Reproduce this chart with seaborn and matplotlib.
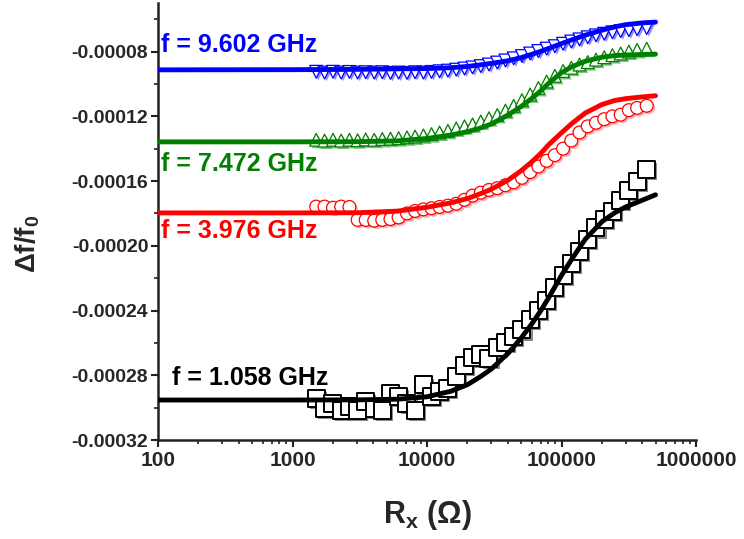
import seaborn as sns
import matplotlib
matplotlib.use('Agg')
import matplotlib.pyplot as plt
import matplotlib.patheffects as pe
from matplotlib.ticker import FuncFormatter, FixedLocator, LogLocator, NullFormatter, MultipleLocator

# measured points (resistance sweep), same R for every frequency
R_meas = [1500, 1730, 2000, 2300, 2650, 3050, 3500, 4050, 4650, 5350, 6150, 7100,
          8150, 9400, 10800, 12400, 14300, 16500, 19000, 21800, 25100, 28900, 33300,
          38300, 44100, 50800, 58500, 67300, 77500, 89200, 102700, 118200, 136100,
          156700, 180400, 207700, 239100, 275300, 316900, 364800, 430000]

blue_data = [-0.0000925, -0.0000930, -0.0000925, -0.0000930, -0.0000926, -0.0000930,
             -0.0000928, -0.0000930, -0.0000928, -0.0000932, -0.0000930, -0.0000932,
             -0.0000928, -0.0000930, -0.0000926, -0.0000922, -0.0000918, -0.0000912,
             -0.0000905, -0.0000898, -0.0000890, -0.0000880, -0.0000868, -0.0000855,
             -0.0000842, -0.0000828, -0.0000812, -0.0000797, -0.0000782, -0.0000767,
             -0.0000752, -0.0000738, -0.0000725, -0.0000712, -0.0000700, -0.0000690,
             -0.0000681, -0.0000674, -0.0000668, -0.0000662, -0.0000655]

green_data = [-0.0001345, -0.0001350, -0.0001345, -0.0001350, -0.0001345, -0.0001348,
              -0.0001343, -0.0001345, -0.0001340, -0.0001338, -0.0001335, -0.0001330,
              -0.0001325, -0.0001318, -0.0001310, -0.0001300, -0.0001290, -0.0001275,
              -0.0001262, -0.0001250, -0.0001232, -0.0001212, -0.0001192, -0.0001165,
              -0.0001135, -0.0001100, -0.0001065, -0.0001025, -0.0000985, -0.0000950,
              -0.0000920, -0.0000900, -0.0000880, -0.0000865, -0.0000850, -0.0000835,
              -0.0000822, -0.0000812, -0.0000800, -0.0000790, -0.0000782]

red_data = [-0.0001758, -0.0001758, -0.0001765, -0.0001758, -0.0001760, -0.0001840,
            -0.0001840, -0.0001845, -0.0001840, -0.0001835, -0.0001825, -0.0001800,
            -0.0001785, -0.0001775, -0.0001768, -0.0001760, -0.0001752, -0.0001740,
            -0.0001716, -0.0001690, -0.0001672, -0.0001655, -0.0001644, -0.0001626,
            -0.0001608, -0.0001580, -0.0001545, -0.0001510, -0.0001475, -0.0001440,
            -0.0001400, -0.0001350, -0.0001300, -0.0001262, -0.0001240, -0.0001218,
            -0.0001200, -0.0001190, -0.0001162, -0.0001148, -0.0001135]

black_data = [-0.0002942, -0.0003004, -0.0002975, -0.0003015, -0.0002990, -0.0003015,
              -0.0002963, -0.0003004, -0.0003015, -0.0002911, -0.0002932, -0.0002973,
              -0.0003015, -0.0002860, -0.0002932, -0.0002900, -0.0002880, -0.0002810,
              -0.0002740, -0.0002690, -0.0002674, -0.0002695, -0.0002630, -0.0002600,
              -0.0002560, -0.0002520, -0.0002458, -0.0002400, -0.0002340, -0.0002260,
              -0.0002185, -0.0002110, -0.0002035, -0.0001960, -0.0001890, -0.0001840,
              -0.0001790, -0.0001720, -0.0001660, -0.0001600, -0.0001531]

# fitted curves
R_fit = [100, 1000, 3000, 6000, 10000, 15000, 20000, 25000, 30000, 40000, 50000,
         60000, 70000, 80000, 100000, 120000, 150000, 200000, 250000, 300000, 400000, 500000]

blue_fit = [-0.0000913, -0.0000912, -0.0000910, -0.0000907, -0.0000905, -0.0000900,
            -0.0000892, -0.0000882, -0.0000873, -0.0000857, -0.0000838, -0.0000817,
            -0.0000799, -0.0000781, -0.0000751, -0.0000727, -0.0000699, -0.0000668,
            -0.0000647, -0.0000634, -0.0000623, -0.0000618]

green_fit = [-0.0001358, -0.0001358, -0.0001357, -0.0001352, -0.0001337, -0.0001316,
             -0.0001295, -0.0001272, -0.0001248, -0.0001192, -0.0001140, -0.0001090,
             -0.0001043, -0.0000997, -0.0000930, -0.0000893, -0.0000860, -0.0000835,
             -0.0000825, -0.0000821, -0.0000818, -0.0000816]

red_fit = [-0.0001797, -0.0001797, -0.0001796, -0.0001786, -0.0001762, -0.0001735,
           -0.0001708, -0.0001678, -0.0001651, -0.0001595, -0.0001537, -0.0001482,
           -0.0001430, -0.0001377, -0.0001302, -0.0001243, -0.0001180, -0.0001127,
           -0.0001102, -0.0001091, -0.0001080, -0.0001073]

black_fit = [-0.0002953, -0.0002953, -0.0002952, -0.0002948, -0.0002933, -0.0002899,
             -0.0002858, -0.0002808, -0.0002762, -0.0002665, -0.0002571, -0.0002484,
             -0.0002402, -0.0002323, -0.0002183, -0.0002079, -0.0001960, -0.0001851,
             -0.0001795, -0.0001760, -0.0001718, -0.0001685]

labels = ['f = 9.602 GHz', 'f = 7.472 GHz', 'f = 3.976 GHz', 'f = 1.058 GHz']

sns.set_style('ticks')
plt.rcParams['font.family'] = ['Liberation Sans', 'DejaVu Sans']
plt.rcParams['font.weight'] = 'bold'
plt.rcParams['axes.unicode_minus'] = False
plt.rcParams['mathtext.fontset'] = 'custom'
plt.rcParams['mathtext.rm'] = 'Liberation Sans:bold'
plt.rcParams['mathtext.it'] = 'Liberation Sans:bold'
plt.rcParams['mathtext.bf'] = 'Liberation Sans:bold'

fig = plt.figure(figsize=(7.44, 5.39), dpi=100)
fig.subplots_adjust(left=158/744, right=696/744, bottom=1-440/539, top=1-3/539)
ax = fig.add_subplot(111)

series = [
    (blue_data, blue_fit, 'blue', '#8c8cff', 'v', 85),
    (green_data, green_fit, 'green', '#7fbf7f', '^', 85),
    (red_data, red_fit, 'red', '#ffb0b0', 'o', 85),
    (black_data, black_fit, 'black', '#8a8a8a', 's', 150),
]

for data, fit, col, shadow, mk, size in series:
    sns.scatterplot(x=R_meas, y=data, marker=mk, s=size, color='white',
                    edgecolor=col, linewidth=1.4 if col == 'black' else 0.9,
                    ax=ax, zorder=2)
    ax.collections[-1].set_path_effects([
        pe.SimplePatchShadow(offset=(1.5, -1.5), shadow_rgbFace=shadow, alpha=1.0),
        pe.Normal()])
    sns.lineplot(x=R_fit, y=fit, color=col, lw=3.5, ax=ax, zorder=3)

# curve labels
ax.text(105, -0.0000801, labels[0], color='blue', fontsize=18, fontweight='bold')
ax.text(106, -0.0001537, labels[1], color='green', fontsize=18, fontweight='bold')
ax.text(106, -0.0001951, labels[2], color='red', fontsize=18, fontweight='bold')
ax.text(127, -0.000286, labels[3], color='black', fontsize=18, fontweight='bold')

ax.set_xscale('log')
ax.set_xlim(100, 1e6)
ax.set_ylim(-0.00032, -0.00005)

ax.xaxis.set_major_locator(FixedLocator([100, 1000, 10000, 100000, 1000000]))
ax.xaxis.set_major_formatter(FuncFormatter(lambda v, p: f'{int(round(v))}'))
ax.xaxis.set_minor_locator(LogLocator(base=10, subs=range(2, 10), numticks=20))
ax.xaxis.set_minor_formatter(NullFormatter())

ax.yaxis.set_major_locator(FixedLocator([-0.00032, -0.00028, -0.00024, -0.0002,
                                         -0.00016, -0.00012, -0.00008]))
ax.yaxis.set_major_formatter(FuncFormatter(lambda v, p: f'{v:.5f}'))
ax.yaxis.set_minor_locator(MultipleLocator(0.00002))

ax.tick_params(axis='both', which='major', direction='out', length=5, width=1.5,
               labelsize=14, pad=2, color='#222222')
ax.tick_params(axis='both', which='minor', direction='out', length=3, width=1.2,
               color='#222222')
ax.tick_params(axis='x', labelsize=15, pad=3)
for lab in ax.get_xticklabels() + ax.get_yticklabels():
    lab.set_fontweight('bold')

sns.despine(ax=ax)
for s in ['left', 'bottom']:
    ax.spines[s].set_linewidth(1.8)
    ax.spines[s].set_color('#222222')

ax.set_xlabel('R$_{x}$ (Ω)', fontsize=22, fontweight='bold', labelpad=20)
ax.set_ylabel('Δf/f$_{0}$', fontsize=20, fontweight='bold')
ax.yaxis.set_label_coords(-0.215, 0.45)

fig.savefig('out.png', dpi=100)
